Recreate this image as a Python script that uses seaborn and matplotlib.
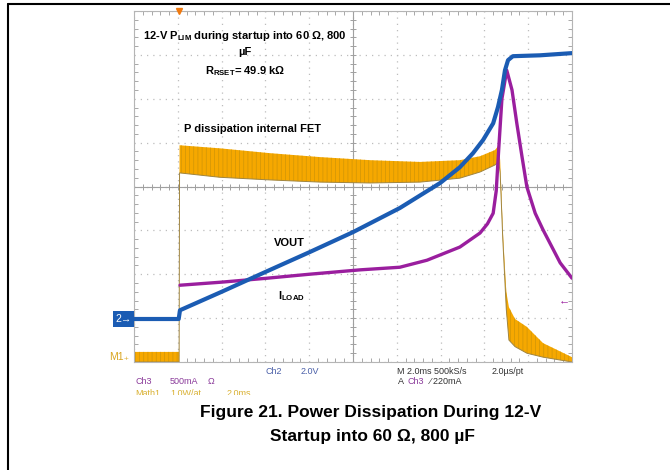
import matplotlib
matplotlib.use("Agg")
import numpy as np
import pandas as pd
import matplotlib.pyplot as plt
import seaborn as sns
from matplotlib.lines import Line2D

# ------------------------------------------------------------
# Data (x = divisions, 2 ms/div ;
# y = divisions from bottom of the graticule)
# ------------------------------------------------------------
BLUE_X = [0.0, 1.02, 1.05, 2.0, 3.04, 4.0, 5.0, 6.07, 6.99, 7.44, 7.74,
          7.97, 8.2, 8.31, 8.40, 8.47, 8.54, 8.65, 9.27, 10.0]
BLUE_Y = [0.98, 0.98, 1.18, 1.6, 2.07, 2.5, 2.96, 3.51, 4.08, 4.44, 4.76,
          5.06, 5.44, 5.81, 6.2, 6.65, 6.88, 6.97, 6.99, 7.04]

PURPLE_X = [1.05, 2.0, 3.04, 4.0, 5.16, 6.07, 6.69, 7.44, 7.9, 8.07, 8.2,
            8.27, 8.33, 8.4, 8.51, 8.63, 8.74, 8.86, 8.97, 9.16, 9.34,
            9.73, 10.0]
PURPLE_Y = [1.75, 1.82, 1.91, 2.0, 2.10, 2.16, 2.32, 2.62, 2.94, 3.15, 3.39,
            3.9, 4.9, 6.0, 6.65, 6.2, 5.44, 4.67, 3.99, 3.39, 3.01,
            2.26, 1.91]

ORANGE_X = [0.0, 1.03, 1.04, 1.96, 3.1, 4.25, 5.39, 6.53, 7.44, 7.9, 8.24,
            8.33, 8.36, 8.42, 8.5, 8.56, 8.7, 8.97, 9.34, 10.0]
ORANGE_HI = [0.23, 0.23, 4.94, 4.87, 4.76, 4.67, 4.60, 4.56, 4.60, 4.69, 4.83,
             4.94, 4.6, 3.0, 1.6, 1.25, 0.98, 0.80, 0.43, 0.11]
ORANGE_LO = [0.0, 0.0, 4.31, 4.21, 4.15, 4.10, 4.08, 4.10, 4.19, 4.33, 4.49,
             4.56, 4.3, 2.8, 1.2, 0.5, 0.35, 0.2, 0.11, 0.0]

CH2_LEVEL = 0.98      # blue ground marker
CH3_LEVEL = 1.41      # purple ground marker

BLUE = "#1b5cb3"
PURPLE = "#9a1e9e"
ORANGE = "#f6a800"

# ------------------------------------------------------------
sns.set_theme(style="white")
plt.rcParams['font.family'] = ['Liberation Sans', 'DejaVu Sans']
plt.rcParams['mathtext.fontset'] = 'custom'
plt.rcParams['mathtext.rm'] = 'Liberation Sans'
plt.rcParams['mathtext.bf'] = 'Liberation Sans:bold'
plt.rcParams['hatch.linewidth'] = 0.5

W, H = 670, 470
def fx(px):
    return px / W
def fy(py):
    return 1 - py / H

fig = plt.figure(figsize=(6.7, 4.7), dpi=100)
ax = fig.add_axes([fx(134), fy(362), 438 / W, 351 / H])
ax.set_xlim(0, 10)
ax.set_ylim(0, 8)

# graticule
ax.set_xticks(range(11))
ax.set_yticks(range(9))
ax.set_xticks(np.arange(0, 10.01, 0.2), minor=True)
ax.set_yticks(np.arange(0, 8.01, 0.2), minor=True)
ax.set_xticklabels([])
ax.set_yticklabels([])
ax.tick_params(which='both', direction='in', top=True, right=True,
               bottom=True, left=True, color='#a8a8a8', width=0.7)
ax.tick_params(which='major', length=0)
ax.tick_params(which='minor', length=3)
ax.grid(True, which='major', color='#bdbdbd', linestyle=(0, (1, 4)), lw=0.9)
for s in ax.spines.values():
    s.set_color('#b5b5b5')
    s.set_linewidth(0.8)
ax.axhline(4, color='#a0a0a0', lw=0.8, zorder=1)
ax.axvline(5, color='#a0a0a0', lw=0.8, zorder=1)
ticks_x = np.arange(0, 10.01, 0.2)
ticks_y = np.arange(0, 8.01, 0.2)
ax.plot(ticks_x, np.full_like(ticks_x, 4), ls='none', marker='|',
        ms=5, mew=0.7, color='#a0a0a0', zorder=1)
ax.plot(np.full_like(ticks_y, 5), ticks_y, ls='none', marker='_',
        ms=5, mew=0.7, color='#a0a0a0', zorder=1)

# power trace (Math1)
ax.fill_between(ORANGE_X, ORANGE_LO, ORANGE_HI, facecolor=ORANGE,
                edgecolor='#cf9508', hatch='||||', linewidth=0, zorder=2)
ax.plot(ORANGE_X, ORANGE_LO, color='#a08540', lw=0.7, zorder=2)

df_p = pd.DataFrame({'t': PURPLE_X, 'v': PURPLE_Y})
sns.lineplot(data=df_p, x='t', y='v', ax=ax, color=PURPLE, lw=2.4,
             sort=False, estimator=None, zorder=3)
df_b = pd.DataFrame({'t': BLUE_X, 'v': BLUE_Y})
sns.lineplot(data=df_b, x='t', y='v', ax=ax, color=BLUE, lw=3,
             sort=False, estimator=None, zorder=4)
ax.set_xlabel('')
ax.set_ylabel('')

# scope markers
ax.text(-0.005, CH2_LEVEL, "2\u2192", transform=ax.get_yaxis_transform(),
        ha='right', va='center', color='white', fontsize=7.5,
        bbox=dict(boxstyle='square,pad=0.25', fc=BLUE, ec='none'),
        clip_on=False)
ax.text(-0.01, 0.12, "M1\u208a", transform=ax.get_yaxis_transform(),
        ha='right', va='center', color='#d9a520', fontsize=7.5, clip_on=False)
ax.plot([ORANGE_X[1]], [8], marker='v', color='#f07a10', ms=5,
        clip_on=False, zorder=6)
ax.text(0.995, CH3_LEVEL, "\u2190", transform=ax.get_yaxis_transform(),
        ha='right', va='center', color=PURPLE, fontsize=8)

# annotations inside the graticule
bold = dict(ha='center', va='center', fontsize=8, weight='bold', color='black')
fig.text(fx(245), fy(36), r"12-V P$_{\mathbf{LIM}}$ during startup into 60 Ω, 800", **bold)
fig.text(fx(245), fy(52), "µF", **bold)
fig.text(fx(245), fy(71), r"R$_{\mathbf{RSET}}$= 49.9 kΩ", **bold)
fig.text(fx(252), fy(129), "P dissipation internal FET", **bold)
fig.text(fx(289), fy(243), "VOUT", **bold)
fig.text(fx(291), fy(296), r"I$_{\mathbf{LOAD}}$", **bold)

# scope status area
st = fig.add_axes([fx(100), fy(395), 480 / W, 33 / H])
st.set_axis_off()
st.set_xlim(100, 580)
st.set_ylim(395, 362)
small = dict(fontsize=6.5, va='center', ha='left', clip_on=True)
st.text(266, 371, "Ch2", color='#4a5fa8', **small)
st.text(301, 371, "2.0V", color='#4a5fa8', **small)
st.text(397, 371, "M 2.0ms 500kS/s", color='#333333', **small)
st.text(492, 371, "2.0µs/pt", color='#333333', **small)
st.text(135, 382, "Ch3", color='#8a3a9a', **small)
st.text(170, 382, "500mA", color='#8a3a9a', **small)
st.text(208, 382, "Ω", color='#8a3a9a', **small)
st.text(398, 382, "A", color='#333333', **small)
st.text(407, 382, "Ch3", color='#8a3a9a', **small)
st.text(430, 382, "\u2044 220mA", color='#333333', **small)
st.text(135, 393, "Math1", color='#d9b030', **small)
st.text(170, 393, "1.0W/at", color='#d9b030', **small)
st.text(227, 393, "2.0ms", color='#d9b030', **small)

# figure caption
cap = dict(ha='center', va='center', fontsize=12.5, weight='bold', color='black')
fig.text(fx(371), fy(413), "Figure 21. Power Dissipation During 12-V", **cap)
fig.text(fx(372), fy(437), "Startup into 60 Ω, 800 µF", **cap)

# page frame
fig.add_artist(Line2D([fx(8), 1], [fy(4), fy(4)], color='black', lw=1.5,
                      transform=fig.transFigure))
fig.add_artist(Line2D([fx(8), fx(8)], [fy(4), 0], color='black', lw=1.5,
                      transform=fig.transFigure))

fig.savefig("out.png", dpi=100)
